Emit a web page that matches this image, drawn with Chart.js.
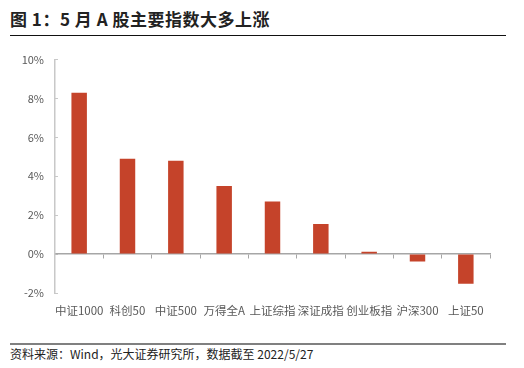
<!DOCTYPE html>
<html>
<head>
<meta charset="utf-8">
<script src="https://cdn.jsdelivr.net/npm/chart.js@4"></script>
<style>
	html, body { margin: 0; padding: 0; background: #fff; }
	body { width: 524px; height: 368px; position: relative; overflow: hidden; font-family: "Noto Sans CJK SC", sans-serif; }
	.title { position: absolute; left: 10px; top: 6px; font-size: 17px; font-weight: bold; color: #222; letter-spacing: 0.5px; }
	.rule-top { position: absolute; left: 10px; top: 35px; width: 496px; height: 1px; background: #111; }
	.rule-bottom { position: absolute; left: 10px; top: 343px; width: 496px; height: 2px; background: #808080; }
	.source { position: absolute; left: 10px; top: 345px; font-size: 12px; color: #222; }
	.chart-box { position: absolute; left: 0; top: 39px; width: 524px; height: 295px; }
</style>
</head>
<body>
<div class="title">图 1：5 月 A 股主要指数大多上涨</div>
<div class="rule-top"></div>
<div class="chart-box"><canvas id="chart"></canvas></div>
<div class="rule-bottom"></div>
<div class="source">资料来源：Wind，光大证券研究所，数据截至 2022/5/27</div>
<script>
const categories = ['中证1000', '科创50', '中证500', '万得全A', '上证综指', '深证成指', '创业板指', '沪深300', '上证50'];
const monthlyReturn = [8.3, 4.9, 4.8, 3.5, 2.7, 1.55, 0.12, -0.38, -1.52];
const yTicks = [10, 8, 6, 4, 2, 0, -2];

const axisGray = '#a6a6a6';
const labelGray = '#595959';

new Chart(document.getElementById('chart'), {
	type: 'bar',
	data: {
		labels: categories,
		datasets: [
			{
				label: '5月涨跌幅',
				data: monthlyReturn,
				backgroundColor: '#c5432a',
				borderWidth: 0,
				barPercentage: 0.32,
				categoryPercentage: 1,
			},
		],
	},
	options: {
		responsive: true,
		maintainAspectRatio: false,
		animation: false,
		layout: {
			padding: { top: 11, right: 34, left: 0, bottom: 0 },
		},
		plugins: {
			legend: { display: false },
			tooltip: { enabled: false },
		},
		scales: {
			x: {
				position: 'bottom',
				border: { display: false },
				grid: { display: false },
				ticks: {
					color: labelGray,
					font: { family: 'Noto Sans CJK SC', size: 11.5 },
					padding: 3,
					maxRotation: 0,
					autoSkip: false,
				},
				afterFit: (scale) => { scale.height = 41; },
			},
			zero: {
				type: 'category',
				axis: 'x',
				position: { y: 0 },
				border: { display: true, color: axisGray, width: 1.5 },
				grid: { drawOnChartArea: false, drawTicks: true, tickLength: 4, color: axisGray },
				ticks: { display: false },
			},
			y: {
				min: -2,
				max: 10,
				border: { display: true, color: '#c8c8c8', width: 1.5 },
				grid: { drawOnChartArea: false, drawTicks: true, tickLength: -3, color: '#c8c8c8' },
				afterBuildTicks: (scale) => {
					scale.ticks = yTicks.map((value) => ({ value }));
				},
				ticks: {
					color: labelGray,
					font: { family: 'Noto Sans CJK SC', size: 11 },
					padding: 14,
					callback: (value) => value + '%',
				},
				afterFit: (scale) => { scale.width = 55; },
			},
		},
	},
});
</script>
</body>
</html>
